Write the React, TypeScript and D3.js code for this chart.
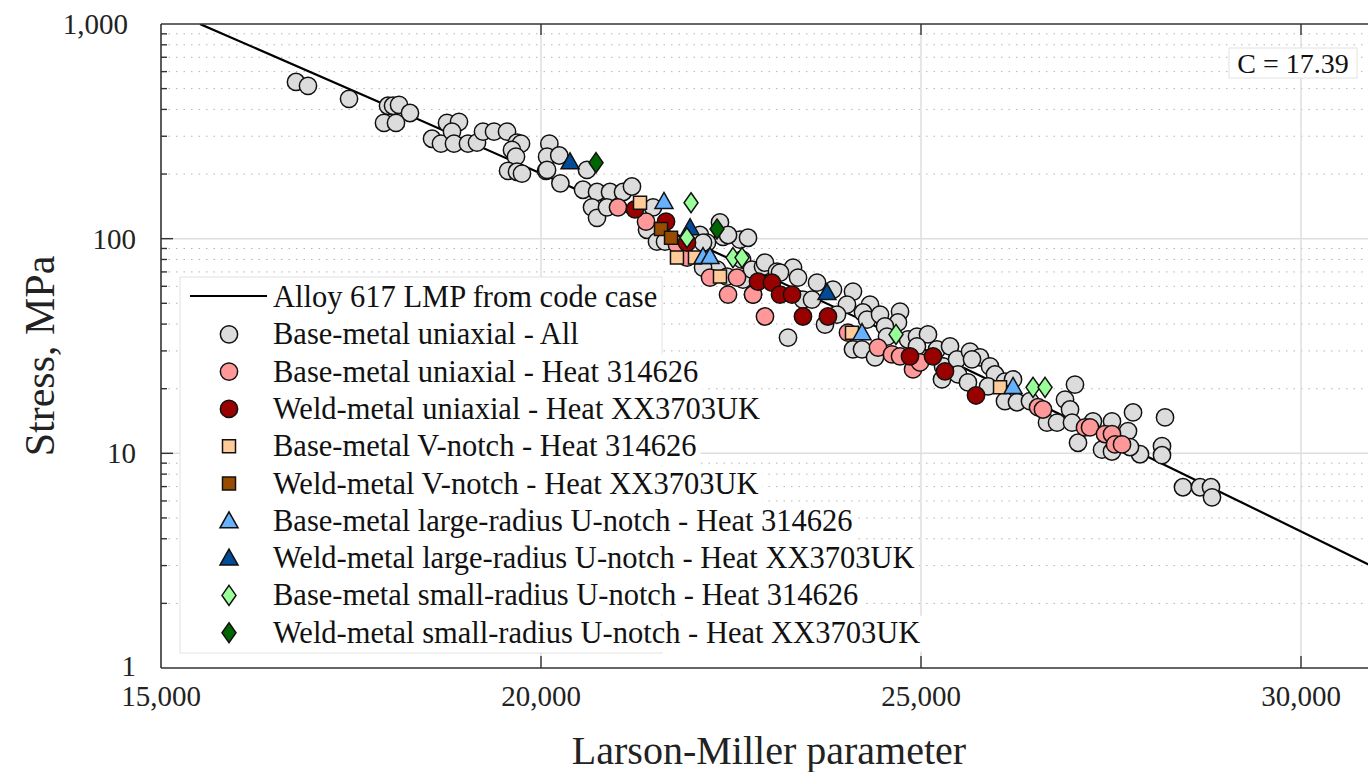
import React, { useRef, useEffect } from 'react'
import * as d3 from 'd3'

// axis ticks
const xTicks = [15000, 20000, 25000, 30000]
const yTicks = [1, 10, 100, 1000]

// code case LMP curve
const codeCaseLine = [
  [15513, 1000], [17921, 425], [19947, 205], [25553, 25.1],
  [28105, 9.19], [29618, 5.04], [31000, 2.9],
]

const baseAll = [
  [16776, 537], [16934, 515], [17474, 448], [17987, 416], [18053, 416], [18132, 420], [18276, 385],
  [17934, 346], [18092, 346], [18566, 292], [18684, 277], [18763, 346], [18921, 350], [18829, 315],
  [18855, 277], [19039, 277], [19158, 280], [19237, 315], [19382, 315], [19553, 315], [19684, 280],
  [19737, 277], [19618, 259], [19671, 241], [19566, 207], [19684, 205], [19750, 201], [20066, 207],
  [20110, 277], [20080, 241], [20240, 244], [20080, 209], [20255, 181], [20605, 209], [20553, 169],
  [20737, 165], [20908, 165], [21079, 165], [21197, 175], [20671, 140], [20737, 125], [20868, 140],
  [21474, 140], [21395, 110], [21526, 96.8], [21632, 96.8], [22395, 102], [22618, 98.9], [22724, 101],
  [22092, 104], [22184, 95.8], [22355, 119], [22461, 104], [22132, 95.8], [22184, 71.8], [22316, 71.8],
  [22447, 66.6], [22658, 64.5], [22790, 54.9], [22645, 79.8], [22776, 71.8], [22921, 74.1], [22947, 77.3],
  [23105, 70.2], [23316, 73.3], [23145, 69.5], [23382, 65.9], [23447, 52.0], [23566, 52.0], [23632, 62.4],
  [23842, 57.9], [22132, 73.3], [23250, 34.6],
  [24105, 56.7], [24026, 49.3], [23895, 44.3], [23737, 39.8], [24329, 49.3], [24237, 45.3], [24290, 42.0],
  [24461, 44.3], [24724, 45.7], [24697, 40.7], [24526, 39.0], [24553, 35.0], [24105, 30.5], [24224, 30.5],
  [24395, 28.0], [24829, 33.9], [24947, 35.0], [25092, 35.8], [24947, 31.5], [25210, 30.5], [25290, 25.4],
  [25276, 22.1], [25382, 31.5], [25474, 27.4], [25645, 29.8], [25776, 28.0], [25671, 27.4], [25487, 23.3],
  [25618, 21.4], [25908, 25.4], [25974, 23.3], [25882, 20.5], [26105, 21.6], [26211, 22.1], [26105, 17.5],
  [26263, 17.3], [26434, 17.5], [27026, 20.9], [26895, 17.8], [26961, 16.0], [26658, 13.9], [26790, 13.9],
  [26987, 13.9], [27263, 14.1], [27513, 14.1], [27724, 12.7], [27066, 11.2], [27382, 10.4], [27513, 10.2],
  [27790, 15.5], [28211, 14.7], [27882, 9.9], [28171, 10.8], [28171, 9.8], [27750, 10.7],
  [28447, 6.95], [28671, 6.95], [28816, 6.95], [28829, 6.24],
]

const baseHeat = [
  [21013, 140], [21382, 120], [21789, 93.8], [21921, 81.6], [22224, 65.9], [22579, 65.9], [22461, 54.9],
  [22790, 54.9], [22947, 43.4], [24039, 36.5], [24434, 31.1], [24618, 28.9], [24724, 28.3], [24895, 24.6],
  [24987, 26.5], [26540, 16.4], [26605, 16.0], [27158, 13.2], [27224, 13.2], [27421, 12.3], [27513, 12.3],
  [27553, 11.0], [27645, 11.0],
]

const weldUniaxial = [
  [21237, 137], [21645, 120], [21921, 95.8], [22855, 63.1], [23039, 62.4], [23145, 54.9], [23303, 54.9],
  [23447, 43.4], [23776, 43.4], [24855, 28.3], [25158, 28.3], [25316, 24.1], [25724, 18.6],
]

const baseVNotch = [[21303, 147], [21789, 81.6], [22026, 81.6], [22355, 66.6], [24092, 36.5], [26040, 20.3]]
const weldVNotch = [[21579, 111], [21711, 101]]
const baseLargeU = [[21618, 149], [22132, 82.5], [22224, 82.5], [24224, 36.5], [26211, 20.5]]
const weldLargeU = [[20382, 228], [21961, 112.5], [23763, 56.1]]
const baseSmallU = [[21974, 147], [21921, 101], [22526, 81.6], [22645, 81.6], [24671, 35.8], [26474, 20.3], [26632, 20.3]]
const weldSmallU = [[20724, 226], [22316, 111]]

const series = [
  { name: 'Base-metal uniaxial - All', shape: 'circle', fill: '#dcdcdc', data: baseAll },
  { name: 'Base-metal uniaxial - Heat 314626', shape: 'circle', fill: '#ff9999', data: baseHeat },
  { name: 'Weld-metal uniaxial - Heat XX3703UK', shape: 'circle', fill: '#990000', data: weldUniaxial },
  { name: 'Base-metal V-notch - Heat 314626', shape: 'square', fill: '#ffcc99', data: baseVNotch },
  { name: 'Weld-metal V-notch - Heat XX3703UK', shape: 'square', fill: '#994c00', data: weldVNotch },
  { name: 'Base-metal large-radius U-notch - Heat 314626', shape: 'triangle', fill: '#66b2ff', data: baseLargeU },
  { name: 'Weld-metal large-radius U-notch - Heat XX3703UK', shape: 'triangle', fill: '#004c99', data: weldLargeU },
  { name: 'Base-metal small-radius U-notch - Heat 314626', shape: 'diamond', fill: '#99ff99', data: baseSmallU },
  { name: 'Weld-metal small-radius U-notch - Heat XX3703UK', shape: 'diamond', fill: '#006600', data: weldSmallU },
]

const FONT = "'Liberation Serif', 'Times New Roman', serif"

const markerPath = (shape: string) => {
  if (shape === 'circle') return d3.symbol(d3.symbolCircle, 235)()
  if (shape === 'square') return 'M-6.5,-6.5H6.5V6.5H-6.5Z'
  if (shape === 'triangle') return 'M0,-9L9,7L-9,7Z'
  return 'M0,-10L7,0L0,10L-7,0Z'
}

const App = () => {
  const svgRef = useRef(null)

  useEffect(() => {
    const svg = d3.select(svgRef.current)
    svg.selectAll('*').remove()

    const left = 161, top = 24, bottom = 668, right = 1377

    const x = d3.scaleLinear().domain([15000, 31000]).range([left, right])
    const y = d3.scaleLog().domain([1, 1000]).range([bottom, top])

    svg.append('defs').append('clipPath').attr('id', 'plot-clip')
      .append('rect').attr('x', left).attr('y', top)
      .attr('width', right - left).attr('height', bottom - top)

    // minor grid (dotted)
    const minor = []
    for (const d of [1, 10, 100]) for (let k = 2; k <= 9; k++) minor.push(k * d)
    svg.append('g').selectAll('line').data(minor).enter().append('line')
      .attr('x1', left).attr('x2', right)
      .attr('y1', d => y(d)).attr('y2', d => y(d))
      .attr('stroke', '#b4b4b4').attr('stroke-width', 1)
      .attr('stroke-dasharray', '1.5 6')

    // major grid
    svg.append('g').selectAll('line').data([10, 100]).enter().append('line')
      .attr('x1', left).attr('x2', right)
      .attr('y1', d => y(d)).attr('y2', d => y(d))
      .attr('stroke', '#dedede').attr('stroke-width', 1.5)
    svg.append('g').selectAll('line').data([20000, 25000, 30000]).enter().append('line')
      .attr('x1', d => x(d)).attr('x2', d => x(d))
      .attr('y1', top).attr('y2', bottom)
      .attr('stroke', '#dedede').attr('stroke-width', 1.5)

    const plot = svg.append('g').attr('clip-path', 'url(#plot-clip)')

    // code case curve
    const line = d3.line().x(d => x(d[0])).y(d => y(d[1])).curve(d3.curveMonotoneX)
    plot.append('path').datum(codeCaseLine)
      .attr('d', line).attr('fill', 'none')
      .attr('stroke', '#000').attr('stroke-width', 2.2)

    // markers
    series.forEach(s => {
      plot.append('g').selectAll('path').data(s.data).enter().append('path')
        .attr('d', markerPath(s.shape))
        .attr('transform', d => `translate(${x(d[0])},${y(d[1])})`)
        .attr('fill', s.fill).attr('stroke', '#111').attr('stroke-width', 1.5)
    })

    // frame
    const frame = svg.append('g').attr('stroke', '#333').attr('stroke-width', 1.6)
    frame.append('line').attr('x1', left).attr('x2', left).attr('y1', top).attr('y2', bottom)
    frame.append('line').attr('x1', left).attr('x2', right).attr('y1', bottom).attr('y2', bottom)
    frame.append('line').attr('x1', left).attr('x2', right).attr('y1', top).attr('y2', top)

    // ticks
    const tk = svg.append('g').attr('stroke', '#333').attr('stroke-width', 1.4)
    tk.selectAll('.ymaj').data([10, 100]).enter().append('line')
      .attr('x1', left).attr('x2', left + 12).attr('y1', d => y(d)).attr('y2', d => y(d))
    tk.selectAll('.ymin').data(minor).enter().append('line')
      .attr('x1', left).attr('x2', left + 6).attr('y1', d => y(d)).attr('y2', d => y(d))
    tk.selectAll('.xb').data([20000, 25000, 30000]).enter().append('line')
      .attr('x1', d => x(d)).attr('x2', d => x(d)).attr('y1', bottom).attr('y2', bottom - 12)
    tk.selectAll('.xt').data([20000, 25000, 30000]).enter().append('line')
      .attr('x1', d => x(d)).attr('x2', d => x(d)).attr('y1', top).attr('y2', top + 11)

    // tick labels
    const fmt = d3.format(',')
    svg.append('g').selectAll('text').data(yTicks).enter().append('text')
      .attr('x', d => (d === 1000 ? left - 33 : left - 25)).attr('y', d => y(d) + (d === 1 ? 8 : 10))
      .attr('text-anchor', 'end').attr('font-family', FONT).attr('font-size', 29).attr('fill', '#222')
      .text(d => fmt(d))
    svg.append('g').selectAll('text').data(xTicks).enter().append('text')
      .attr('x', d => x(d)).attr('y', 706)
      .attr('text-anchor', 'middle').attr('font-family', FONT).attr('font-size', 29).attr('fill', '#222')
      .text(d => fmt(d))

    // axis titles
    svg.append('text')
      .attr('transform', `translate(54,${(top + bottom) / 2 + 10}) rotate(-90)`)
      .attr('text-anchor', 'middle').attr('font-family', FONT).attr('font-size', 42).attr('fill', '#222')
      .text('Stress, MPa')
    svg.append('text')
      .attr('x', (left + right) / 2).attr('y', 764)
      .attr('text-anchor', 'middle').attr('font-family', FONT).attr('font-size', 40).attr('fill', '#222')
      .text('Larson-Miller parameter')

    // C annotation
    svg.append('rect').attr('x', 1229).attr('y', 48).attr('width', 128).attr('height', 30)
      .attr('fill', '#fff').attr('stroke', '#e2e2e2')
    svg.append('text').attr('x', 1293).attr('y', 73)
      .attr('text-anchor', 'middle').attr('font-family', FONT).attr('font-size', 28).attr('fill', '#111')
      .text('C = 17.39')

    // legend
    const lg = svg.append('g')
    lg.append('rect').attr('x', 180).attr('y', 277).attr('width', 482).attr('height', 376)
      .attr('fill', '#fff').attr('stroke', '#e2e2e2')
    const rows = [{ name: 'Alloy 617 LMP from code case', shape: 'line', fill: '' }, ...series]
    const rowY = (i: number) => 297 + i * 37.3
    const bgs = lg.append('g')
    rows.forEach((r, i) => {
      const cy = rowY(i)
      const t = lg.append('text').attr('x', 273).attr('y', cy + 10)
        .attr('font-family', FONT).attr('font-size', 30.5).attr('fill', '#111')
        .text(r.name)
      const w = (t.node() as SVGTextElement).getComputedTextLength()
      if (273 + w > 660) {
        bgs.append('rect').attr('x', 600).attr('y', cy - 17).attr('width', 273 + w + 4 - 600).attr('height', 36)
          .attr('fill', '#fff')
      }
      if (r.shape === 'line') {
        lg.append('line').attr('x1', 190).attr('x2', 267).attr('y1', cy - 1).attr('y2', cy - 1)
          .attr('stroke', '#000').attr('stroke-width', 2.2)
      } else {
        lg.append('path').attr('d', markerPath(r.shape))
          .attr('transform', `translate(229,${cy})`)
          .attr('fill', r.fill).attr('stroke', '#111').attr('stroke-width', 1.5)
      }
    })
  }, [])

  return (
    <div>
      <svg ref={svgRef} width={1368} height={772}
        style={{ position: 'absolute', left: 0, top: 0, background: '#fff' }} />
    </div>
  )
}

export default App
